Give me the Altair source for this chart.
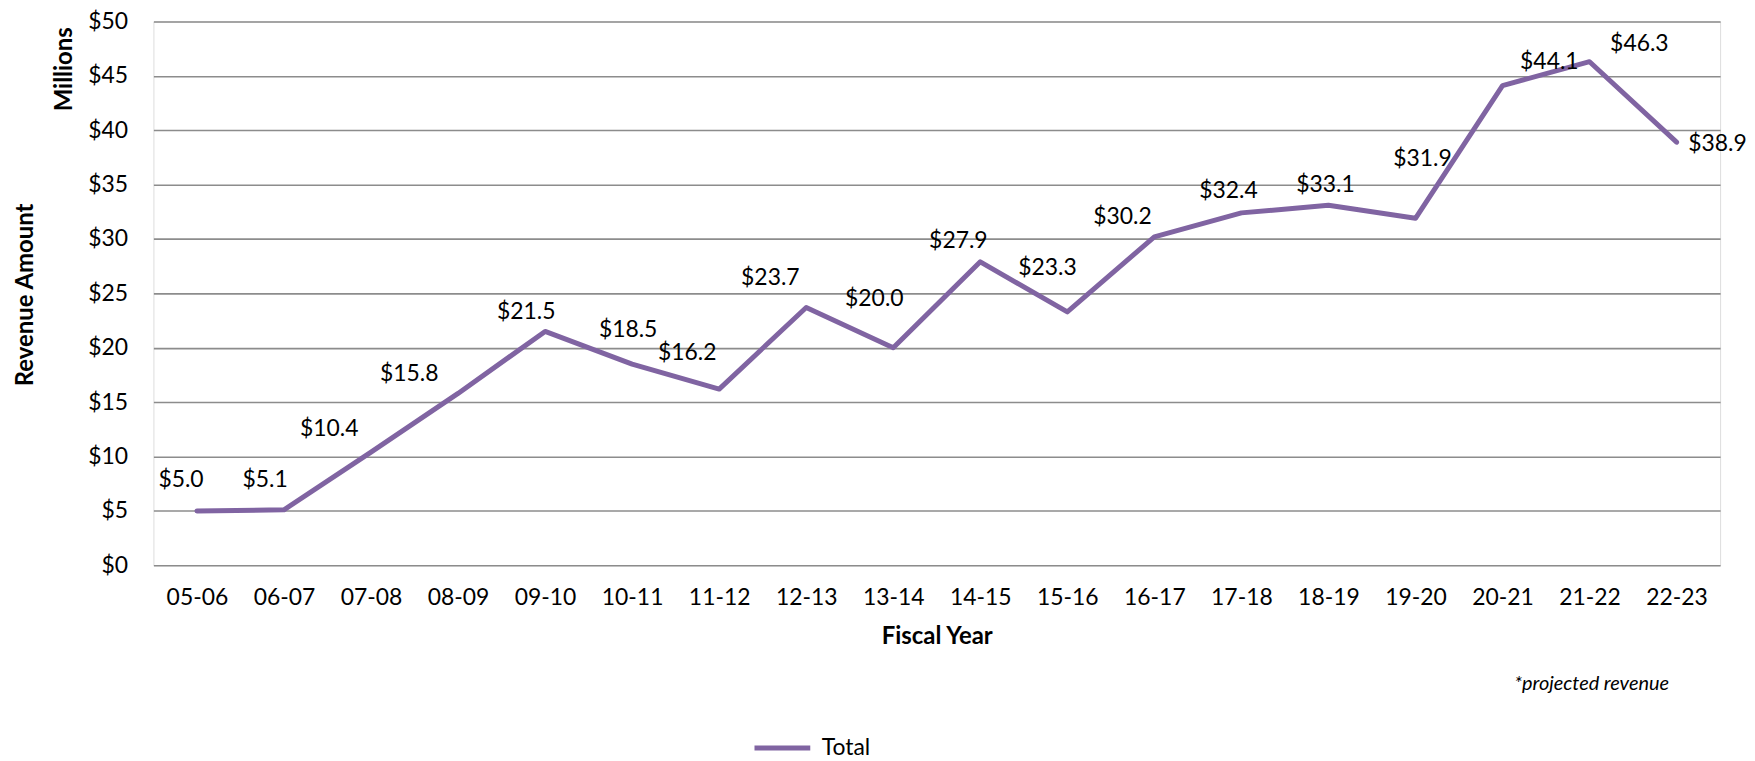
import altair as alt
import pandas as pd

years = ["05-06", "06-07", "07-08", "08-09", "09-10", "10-11", "11-12", "12-13", "13-14",
         "14-15", "15-16", "16-17", "17-18", "18-19", "19-20", "20-21", "21-22", "22-23"]
revenue = [5.0, 5.1, 10.4, 15.8, 21.5, 18.5, 16.2, 23.7, 20.0,
           27.9, 23.3, 30.2, 32.4, 33.1, 31.9, 44.1, 46.3, 38.9]
series_name = "Total"
y_ticks = [0, 5, 10, 15, 20, 25, 30, 35, 40, 45, 50]

# label placement offsets (pixels) relative to each point, as in the original
label_dx = [-16, -19, -42, -49, -19, -4, -32, -36, -19, -22, -20, -32, -13, -3, 7, 47, 50, 41]
label_dy = [-31, -30, -23, -19, -19, -34, -36, -30, -49, -21, -44, -20, -22, -20, -60, -24, -18, 2]

FONT = "Lato"
PURPLE = "#8064A2"
GRID = "#8c8c8c"
W, H = 1573, 546

df = pd.DataFrame({
    "year": years,
    "revenue": revenue,
    "series": [series_name] * len(years),
    "label": ["$" + f"{v:.1f}" for v in revenue],
})

x_enc = alt.X("year:N", sort=years,
              scale=alt.Scale(type="point", padding=0.5),
              axis=alt.Axis(title="Fiscal Year", labelAngle=0, labelFontSize=23,
                            labelFont=FONT, labelColor="#000", labelPadding=21,
                            ticks=False, tickSize=0, domain=False, grid=False,
                            titleFont=FONT, titleFontSize=24, titleFontWeight="bold",
                            titleColor="#000", titlePadding=16))
y_enc = alt.Y("revenue:Q",
              scale=alt.Scale(domain=[0, 50], nice=False, zero=True),
              axis=alt.Axis(title="Revenue Amount", values=y_ticks,
                            labelExpr="'$' + datum.value", labelFontSize=23,
                            labelFont=FONT, labelColor="#000", labelPadding=26,
                            ticks=False, tickSize=0, domain=False, grid=True,
                            gridColor=GRID, gridWidth=1.6,
                            titleFont=FONT, titleFontSize=24, titleFontWeight="bold",
                            titleColor="#000", titleAngle=270, titleBaseline="middle",
                            titleAlign="center", titleX=-128, titleY=274))

base = alt.Chart(df)

line = base.mark_line(strokeWidth=5, strokeCap="round", strokeJoin="round").encode(
    x=x_enc,
    y=y_enc,
    color=alt.Color("series:N",
                    scale=alt.Scale(domain=[series_name], range=[PURPLE]),
                    legend=alt.Legend(title=None, orient="none", legendX=601, legendY=699,
                                      symbolType="stroke", symbolSize=3136,
                                      symbolStrokeWidth=5, labelFont=FONT,
                                      labelFontSize=23, labelColor="#000",
                                      labelOffset=9)),
)

label_layers = []
for i, yr in enumerate(years):
    label_layers.append(
        base.transform_filter(alt.datum.year == yr)
        .mark_text(font=FONT, fontSize=23, color="#000", align="center",
                   baseline="middle", dx=label_dx[i], dy=label_dy[i])
        .encode(x=alt.X("year:N", sort=years), y="revenue:Q", text="label:N")
    )

millions = alt.Chart(pd.DataFrame({"t": ["Millions"]})).mark_text(
    font=FONT, fontSize=24, fontWeight="bold", color="#000", angle=270,
    align="center", baseline="middle"
).encode(x=alt.value(-89), y=alt.value(48), text="t:N")

note = alt.Chart(pd.DataFrame({"t": ["*projected revenue"]})).mark_text(
    font=FONT, fontSize=20, fontStyle="italic", color="#000",
    align="center", baseline="middle"
).encode(x=alt.value(1444), y=alt.value(665), text="t:N")

chart = alt.layer(line, *label_layers, millions, note).properties(
    width=W, height=H,
    autosize=alt.AutoSizeParams(type="none"),
    padding={"left": 146, "top": 12, "right": 27, "bottom": 195},
).configure_view(stroke=None).configure(background="white")

chart.save("out.html", embed_options={"renderer": "svg", "actions": False})
